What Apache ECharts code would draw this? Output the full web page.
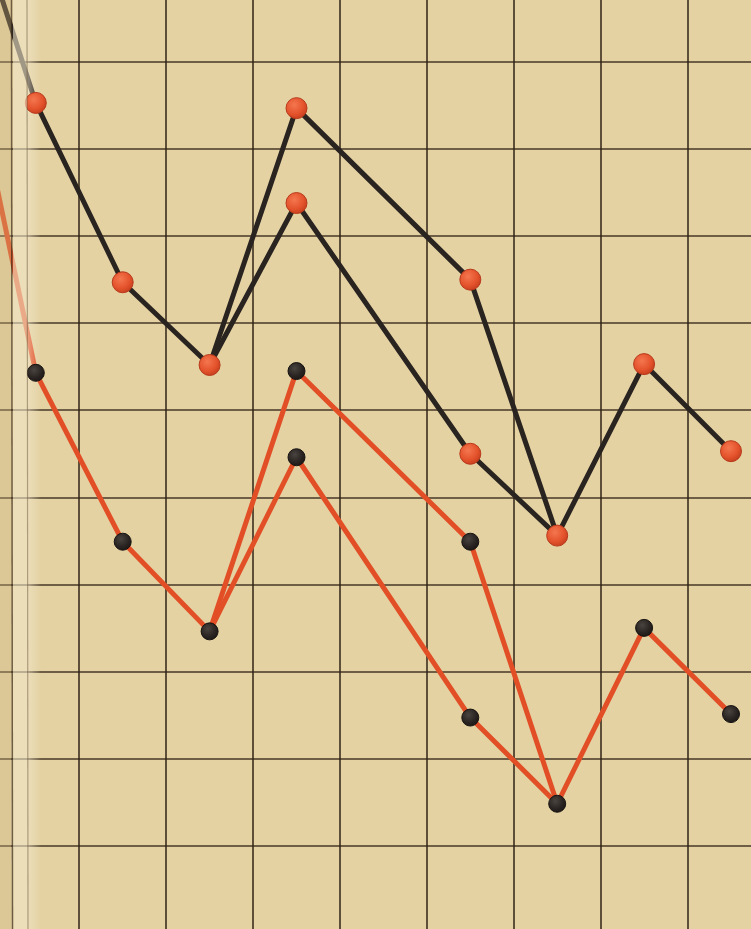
<!DOCTYPE html>
<html>
<head>
<meta charset="utf-8">
<script src="https://cdn.jsdelivr.net/npm/echarts@6/dist/echarts.min.js"></script>
<style>
html,body{margin:0;padding:0;background:#e4d2a3;}
#c{width:751px;height:929px;}
</style>
</head>
<body>
<div id="c"></div>
<script>
// Column indices (grid cells) of each pin; column -1 lies off the page, in the binding
const mainCols = [-1, 0, 1, 2, 3, 5, 6, 7, 8];
const altCols = [2, 3, 5, 6];

// Black string with red pins (values in grid units)
const blackMain = [12.6, 9.53, 7.47, 6.52, 9.47, 7.5, 4.56, 6.53, 5.53];
const blackAlt = [6.52, 8.38, 5.5, 4.56];

// Red string with black pins
const redMain = [11.2, 6.43, 4.49, 3.46, 6.45, 4.49, 1.48, 3.5, 2.51];
const redAlt = [3.46, 5.46, 2.47, 1.48];

const toPts = (cols, vals) => cols.map((c, i) => [c + 0.5, vals[i]]);
const visible = pts => pts.filter(p => p[0] > 0);

const chart = echarts.init(document.getElementById('c'), null, {renderer: 'canvas'});

const gridLine = {show: true, lineStyle: {color: 'rgba(48,34,20,0.88)', width: 1.7}};

const redPin = {
  type: 'radial', x: 0.4, y: 0.35, r: 0.7,
  colorStops: [{offset: 0, color: '#f4774f'}, {offset: 0.6, color: '#e4532c'}, {offset: 1, color: '#c23c1c'}]
};
const blackPin = {
  type: 'radial', x: 0.4, y: 0.35, r: 0.7,
  colorStops: [{offset: 0, color: '#4a4440'}, {offset: 0.6, color: '#2a2522'}, {offset: 1, color: '#1a1614'}]
};

const blackColor = '#2a2420';
const redColor = '#e24f26';

chart.setOption({
  backgroundColor: '#e4d2a3',
  animation: false,
  grid: {left: -7.65, right: -23.45, top: -25.06, bottom: -3.6, outerBoundsMode: 'none', containLabel: false},
  xAxis: {
    type: 'value', min: 0, max: 9, interval: 1,
    axisLine: {show: false}, axisTick: {show: false}, axisLabel: {show: false},
    splitLine: gridLine
  },
  yAxis: {
    type: 'value', min: 0, max: 11, interval: 1,
    axisLine: {show: false}, axisTick: {show: false}, axisLabel: {show: false},
    splitLine: gridLine
  },
  series: [
    {type: 'line', data: toPts(mainCols, blackMain), symbol: 'none', z: 3,
     lineStyle: {color: blackColor, width: 5}},
    {type: 'line', data: toPts(altCols, blackAlt), symbol: 'none', z: 3,
     lineStyle: {color: blackColor, width: 5}},
    {type: 'line', data: toPts(mainCols, redMain), symbol: 'none', z: 3,
     lineStyle: {color: redColor, width: 5}},
    {type: 'line', data: toPts(altCols, redAlt), symbol: 'none', z: 3,
     lineStyle: {color: redColor, width: 5}},
    {type: 'scatter', z: 5, symbolSize: 21,
     data: visible(toPts(mainCols, blackMain)).concat(toPts([3, 5], [blackAlt[1], blackAlt[2]])),
     itemStyle: {color: redPin, borderColor: '#b8391b', borderWidth: 1, opacity: 1}},
    {type: 'scatter', z: 5, symbolSize: 17,
     data: visible(toPts(mainCols, redMain)).concat(toPts([3, 5], [redAlt[1], redAlt[2]])),
     itemStyle: {color: blackPin, borderColor: '#161210', borderWidth: 1, opacity: 1}}
  ],
  graphic: [
    {type: 'rect', z: 100, shape: {x: 0, y: 0, width: 11, height: 929},
     style: {fill: 'rgba(205,180,125,0.35)'}},
    {type: 'rect', z: 100, shape: {x: 13, y: 0, width: 14, height: 929},
     style: {fill: 'rgba(240,230,200,0.6)'}},
    {type: 'rect', z: 4, shape: {x: 27, y: 0, width: 14, height: 929},
     style: {fill: {type: 'linear', x: 0, y: 0, x2: 1, y2: 0,
       colorStops: [{offset: 0, color: 'rgba(242,232,205,0.55)'}, {offset: 1, color: 'rgba(242,232,205,0)'}]}}},
    {type: 'line', z: 101, shape: {x1: 11.5, y1: 0, x2: 12.5, y2: 929},
     style: {stroke: 'rgba(70,52,32,0.75)', lineWidth: 1.5}},
    {type: 'line', z: 101, shape: {x1: 27, y1: 0, x2: 28, y2: 929},
     style: {stroke: 'rgba(110,88,60,0.5)', lineWidth: 1.2}}
  ]
});
</script>
</body>
</html>
